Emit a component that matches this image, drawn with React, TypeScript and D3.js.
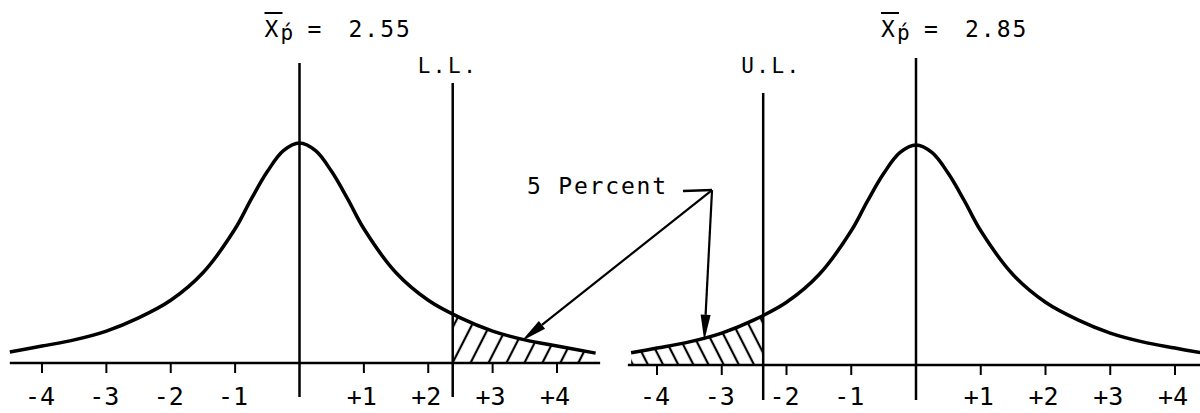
import React from "react";
import * as d3 from "d3";

// ---- data ----
// shape of the drawn distribution (relative height vs. z)
const zGrid = [-4.6, -4, -3.5, -3, -2.5, -2, -1.5, -1, -0.75, -0.5, -0.25, 0, 0.25, 0.5, 0.75, 1, 1.5, 2, 2.5, 3, 3.5, 4, 4.6];
const density = [0.045, 0.077, 0.105, 0.145, 0.205, 0.285, 0.41, 0.61, 0.745, 0.87, 0.965, 1, 0.965, 0.87, 0.745, 0.61, 0.41, 0.285, 0.205, 0.145, 0.105, 0.077, 0.045];
const tickValues = [-4, -3, -2, -1, 1, 2, 3, 4];
const tickLabels = ["-4", "-3", "-2", "-1", "+1", "+2", "+3", "+4"];
const meanValues = ["2.55", "2.85"];
const limitLabels = ["L.L.", "U.L."];
const limitZ = [2.38, -2.36];
const curveExtent = [[-4.5, 4.6], [-4.4, 4.4]];
const axisExtent = [[-4.5, 4.67], [-4.45, 4.45]];
const shadeSide = ["right", "left"];
const annotationText = "5 Percent";
// arrow tips (z, relative height) in each panel, and the corner (right panel coords)
const arrowTips = [[3.45, 0.1], [-3.27, 0.11]];
const arrowCorner = [-3.15, 0.795];

export default function App() {
  const font = "'DejaVu Sans Mono', monospace";
  const interp = d3.scaleLinear().domain(zGrid).range(density);
  const xScales = [
    d3.scaleLinear().domain([-4, 4]).range([42, 557]),
    d3.scaleLinear().domain([-4, 4]).range([657, 1175]),
  ];
  const baselines = [363, 365];
  const peaks = [143, 145];
  const yScales = baselines.map((b, i) => d3.scaleLinear().domain([0, 1]).range([b, peaks[i]]));
  const centerTop = [63, 58];
  const limitTop = [83, 93];
  const lineBottom = [397, 400];
  const limitLabelOffset = [-35, -22];
  const hatchAngle = [27, -27];
  const hatchSpacing = [16, 13.5];

  const panels = [0, 1].map((i) => {
    const x = xScales[i];
    const y = yScales[i];
    const [a, b] = curveExtent[i];
    const pts = [a, ...zGrid.filter((z) => z > a && z < b), b].map((z) => [z, interp(z)] as [number, number]);
    const curve = d3.curveCatmullRom.alpha(0.5);
    const line = d3.line<[number, number]>().x((d) => x(d[0])).y((d) => y(d[1])).curve(curve);
    const area = d3
      .area<[number, number]>()
      .x((d) => x(d[0]))
      .y0(y(0))
      .y1((d) => y(d[1]))
      .curve(curve);
    const hz = shadeSide[i] === "right" ? [limitZ[i], b] : [a, limitZ[i]];
    return { i, x, y, pts, line, area, hz };
  });

  const arrowHead = (x1: number, y1: number, x2: number, y2: number, len = 26, w = 5) => {
    const L = Math.hypot(x2 - x1, y2 - y1);
    const ux = (x2 - x1) / L, uy = (y2 - y1) / L;
    const bx = x2 - ux * len, by = y2 - uy * len;
    const nx = -uy, ny = ux;
    return {
      pts: `${x2},${y2} ${bx + nx * w},${by + ny * w} ${bx - nx * w},${by - ny * w}`,
      bx,
      by,
    };
  };

  const cx = xScales[1](arrowCorner[0]);
  const cy = yScales[1](arrowCorner[1]);
  const tips = arrowTips.map((t, i) => [xScales[i](t[0]), yScales[i](t[1])]);

  return (
    <svg
      width={1200}
      height={413}
      style={{ position: "absolute", left: 0, top: 0, background: "#fff" }}
      fontFamily={font}
    >
      <defs>
        {panels.map((p) => (
          <React.Fragment key={p.i}>
            <pattern
              id={`hatch${p.i}`}
              width={hatchSpacing[p.i]}
              height={40}
              patternUnits="userSpaceOnUse"
              patternTransform={`rotate(${hatchAngle[p.i]})`}
            >
              <line x1={hatchSpacing[p.i] / 2} y1={0} x2={hatchSpacing[p.i] / 2} y2={40} stroke="#000" strokeWidth={2.2} />
            </pattern>
            <clipPath id={`clip${p.i}`}>
              <path d={p.area(p.pts) || ""} />
            </clipPath>
          </React.Fragment>
        ))}
      </defs>

      {panels.map((p) => {
        const { i, x, y } = p;
        const c = x(0);
        const lx = x(limitZ[i]);
        const base = y(0);
        return (
          <g key={i}>
            {/* hatched tail */}
            <g clipPath={`url(#clip${i})`}>
              <rect
                x={x(p.hz[0])}
                y={100}
                width={x(p.hz[1]) - x(p.hz[0])}
                height={base - 100}
                fill={`url(#hatch${i})`}
              />
            </g>
            {/* axis */}
            <line x1={x(axisExtent[i][0])} x2={x(axisExtent[i][1])} y1={base} y2={base} stroke="#000" strokeWidth={2.5} />
            {tickValues.map((t, k) => (
              <g key={t}>
                <line x1={x(t)} x2={x(t)} y1={base} y2={base + 10} stroke="#000" strokeWidth={2} />
                <text x={x(t) - 2} y={405} fontSize={25} textAnchor="middle" fill="#000">
                  {tickLabels[k]}
                </text>
              </g>
            ))}
            {/* curve */}
            <path d={p.line(p.pts) || ""} fill="none" stroke="#000" strokeWidth={3.5} />
            {/* mean line */}
            <line x1={c} x2={c} y1={centerTop[i]} y2={lineBottom[i]} stroke="#000" strokeWidth={2.5} />
            {/* limit line */}
            <line x1={lx} x2={lx} y1={limitTop[i]} y2={lineBottom[i]} stroke="#000" strokeWidth={2.5} />
            <text x={lx + limitLabelOffset[i]} y={73} fontSize={21} letterSpacing={2.5} fill="#000">
              {limitLabels[i]}
            </text>
            {/* title */}
            <line x1={c - 35} x2={c - 17} y1={13} y2={13} stroke="#000" strokeWidth={2} />
            <text x={c - 35} y={37} fontSize={23} fill="#000">X</text>
            <text x={c - 19} y={40} fontSize={21} fill="#000">ṕ</text>
            <text x={c + 8} y={37} fontSize={23} fill="#000">=</text>
            <text x={c + 49} y={37} fontSize={23} letterSpacing={2} fill="#000">
              {meanValues[i]}
            </text>
          </g>
        );
      })}

      {/* annotation */}
      <text x={527} y={194} fontSize={23} letterSpacing={1.8} fill="#000">
        {annotationText}
      </text>
      <line x1={683} y1={cy + 1} x2={cx} y2={cy} stroke="#000" strokeWidth={2.5} />
      {tips.map((t, i) => {
        const h = arrowHead(cx, cy, t[0], t[1]);
        return (
          <g key={i}>
            <line x1={cx} y1={cy} x2={h.bx} y2={h.by} stroke="#000" strokeWidth={2.2} />
            <polygon points={h.pts} fill="#000" />
          </g>
        );
      })}
    </svg>
  );
}
